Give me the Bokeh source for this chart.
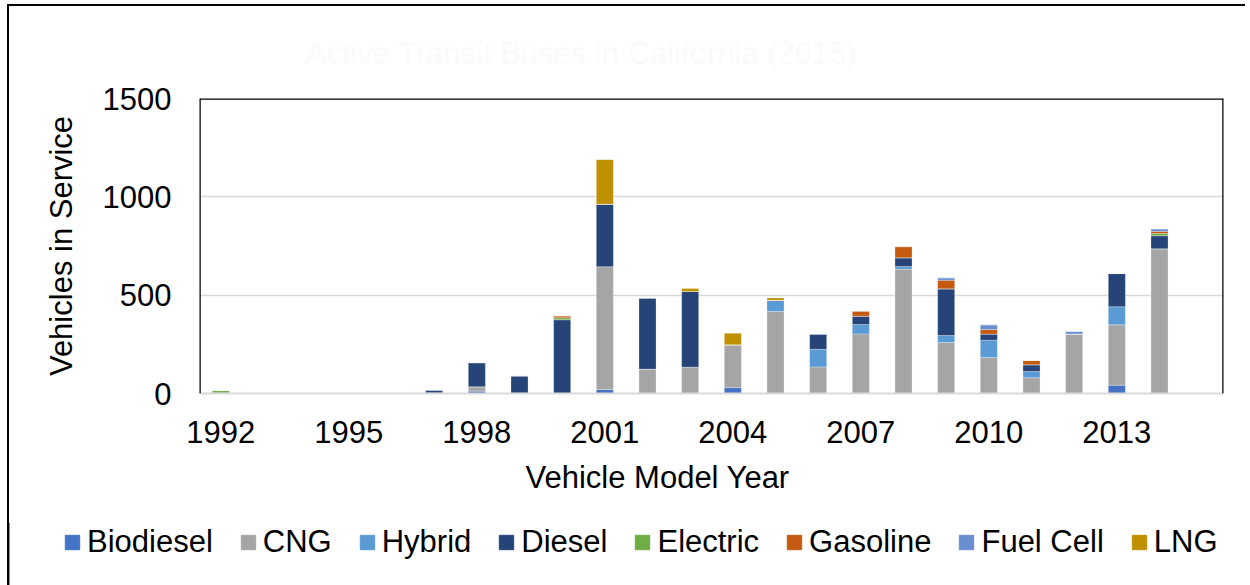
from bokeh.plotting import figure
from bokeh.layouts import column
from bokeh.models import ColumnDataSource, FixedTicker, Legend, LegendItem, Span, Title, Range1d
from bokeh.embed import file_html
from bokeh.resources import INLINE

years = list(range(1992, 2016))
#            92  93  94  95  96  97  98   99   00   01   02   03   04   05   06   07   08   09   10   11   12   13   14  15
biodiesel = [0,  0,  0,  0,  0,  0,  12,  0,   0,   20,  0,   0,   30,  0,   0,   0,   0,   0,   0,   0,   0,   42,  0,  0]
cng       = [3,  3,  3,  3,  3,  3,  22,  2,   0,   625, 124, 134, 218, 417, 135, 303, 632, 259, 183, 80,  303, 307, 736, 0]
hybrid    = [0,  0,  0,  0,  0,  0,  0,   0,   0,   0,   0,   0,   0,   57,  90,  48,  14,  36,  88,  32,  0,   92,  0,  0]
diesel    = [0,  0,  0,  0,  0,  15, 123, 88,  375, 317, 362, 385, 0,   0,   78,  42,  44,  237, 31,  34,  0,   169, 66, 0]
electric  = [12, 0,  0,  0,  0,  0,  0,   0,   10,  0,   0,   0,   0,   0,   0,   0,   0,   0,   0,   0,   0,   0,   11, 0]
gasoline  = [0,  0,  0,  0,  0,  0,  0,   0,   10,  0,   0,   0,   0,   0,   0,   26,  57,  44,  23,  22,  0,   0,   11, 0]
fuel_cell = [0,  0,  0,  0,  0,  0,  0,   0,   0,   0,   0,   0,   0,   0,   0,   0,   0,   12,  24,  0,   12,  0,   13, 0]
lng       = [0,  0,  0,  0,  0,  0,  0,   0,   0,   227, 0,   15,  58,  12,  0,   0,   0,   0,   0,   0,   0,   0,   0,  0]

series_names = ["Biodiesel", "CNG", "Hybrid", "Diesel", "Electric", "Gasoline", "Fuel Cell", "LNG"]
series_values = [biodiesel, cng, hybrid, diesel, electric, gasoline, fuel_cell, lng]
colors = ["#4472C4", "#A5A5A5", "#5B9BD5", "#264478", "#70AD47", "#C55A11", "#698ED0", "#BF9000"]
x_tick_years = [1992, 1995, 1998, 2001, 2004, 2007, 2010, 2013]
y_ticks = [0, 500, 1000, 1500]
title_text = "Active Transit Buses in California (2015)"
x_title = "Vehicle Model Year"
y_title = "Vehicles in Service"

FONT = "Liberation Sans"
FS = "31px"

data = {"year": years}
for n, v in zip(series_names, series_values):
    data[n] = v
src = ColumnDataSource(data)

p = figure(width=1236, height=517,
           min_border_left=190, min_border_right=22, min_border_top=92, min_border_bottom=130,
           x_range=(1991.5, 2015.5), y_range=(0, 1500),
           output_backend="svg", toolbar_location=None)
p.outline_line_color = None
p.background_fill_color = "white"
p.border_fill_color = "white"

renderers = p.vbar_stack(series_names, x="year", width=0.4, source=src,
                         fill_color=colors, line_color="white", line_alpha=0.35, line_width=0.8)

# grid
p.xgrid.visible = False
p.ygrid.ticker = FixedTicker(ticks=y_ticks)
p.ygrid.grid_line_color = "#D9D9D9"
p.ygrid.grid_line_width = 1.5

# y axis
ya = p.yaxis[0]
ya.ticker = FixedTicker(ticks=y_ticks)
ya.axis_line_color = None
ya.major_tick_line_color = None
ya.minor_tick_line_color = None
ya.major_tick_out = 0
ya.major_tick_in = 0
ya.major_label_standoff = 28
ya.major_label_text_font = FONT
ya.major_label_text_font_size = FS
ya.major_label_text_color = "black"
ya.axis_label = y_title
ya.axis_label_text_font = FONT
ya.axis_label_text_font_size = FS
ya.axis_label_text_font_style = "normal"
ya.axis_label_text_color = "black"
ya.axis_label_standoff = 21

# x axis
xa = p.xaxis[0]
xa.ticker = FixedTicker(ticks=x_tick_years)
xa.axis_line_color = "#D9D9D9"
xa.axis_line_width = 2
xa.major_tick_line_color = None
xa.minor_tick_line_color = None
xa.major_tick_out = 0
xa.major_tick_in = 0
xa.major_label_standoff = 27
xa.major_label_text_font = FONT
xa.major_label_text_font_size = FS
xa.major_label_text_color = "black"

# black plot-area border (left, top, right)
for loc, dim in [(1991.5, "height"), (2015.5, "height"), (1500, "width")]:
    p.add_layout(Span(location=loc, dimension=dim, line_color="black", line_width=2.5))

# x axis title (offset to the left like the reference)
p.add_layout(Title(text=x_title, align="left", offset=326, standoff=25,
                   text_font=FONT, text_font_size=FS, text_font_style="normal",
                   text_color="black"), "below")

# faint chart title
p.add_layout(Title(text=title_text, align="left", offset=106, standoff=55,
                   text_font=FONT, text_font_size=FS, text_font_style="normal",
                   text_color="#fbfbfb"), "above")

# legend in its own strip below the chart
lf = figure(width=1236, height=62, min_border=0,
            x_range=Range1d(0, 1), y_range=Range1d(0, 1),
            x_axis_location=None, y_axis_location=None,
            output_backend="svg", toolbar_location=None)
lf.outline_line_color = None
lf.xgrid.visible = False
lf.ygrid.visible = False
lf.background_fill_color = "white"
lf.border_fill_color = "white"
for fig in (p, lf):
    try:
        fig.frame_align = False
    except Exception:
        pass
items = []
for n, c in zip(series_names, colors):
    # off-range proxy bar: only used to draw the legend swatch
    rr = lf.vbar(x=[-10], top=[1], width=0.4, fill_color=c, line_color=c, line_alpha=1)
    items.append(LegendItem(label=n, renderers=[rr]))
legend = Legend(items=items, orientation="horizontal", location=(54, 25),
                glyph_width=18, glyph_height=18, label_standoff=6, spacing=26,
                padding=0, margin=0, border_line_color=None, background_fill_alpha=0,
                label_text_font=FONT, label_text_font_size=FS, label_text_color="black")
lf.add_layout(legend, "center")

layout = column(p, lf, spacing=0)
layout.styles = {"border-left": "2px solid black", "border-top": "2px solid black",
                 "margin-left": "7px", "margin-top": "4px"}

open("out.html", "w").write(file_html(layout, INLINE))
